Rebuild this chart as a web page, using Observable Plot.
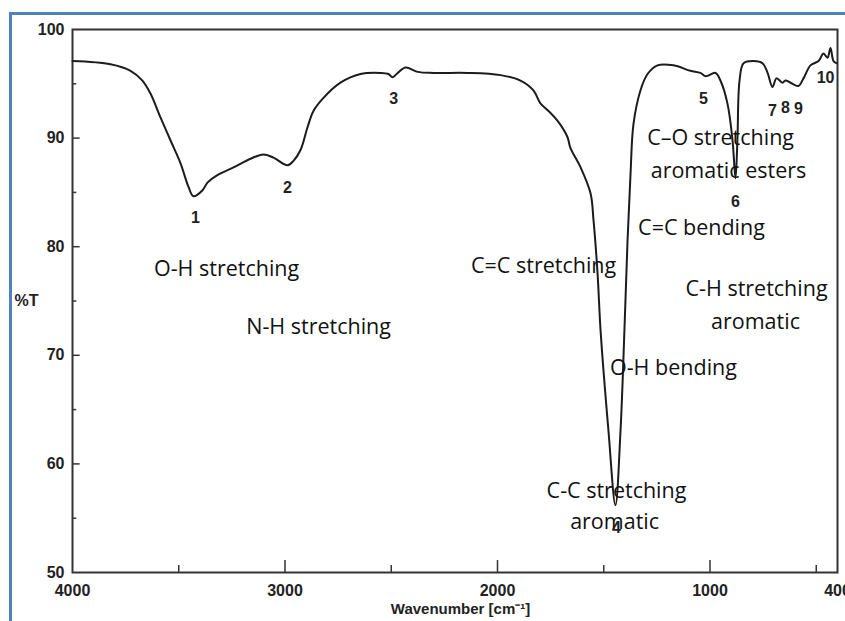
<!DOCTYPE html>
<html><head><meta charset="utf-8">
<script src="https://cdn.jsdelivr.net/npm/d3@7"></script>
<script src="https://cdn.jsdelivr.net/npm/@observablehq/plot@0.6"></script>
<style>
html,body{margin:0;padding:0;background:#fff;}
#wrap{position:relative;width:845px;height:621px;overflow:hidden;}
#border{position:absolute;left:9px;top:12px;width:1000px;height:1000px;border-left:3px solid #4f81bd;border-top:3px solid #4f81bd;}
#chart{position:absolute;left:0;top:0;}
</style></head><body>
<div id="wrap"><div id="border"></div><div id="chart"></div></div>
<script>
// Spectrum: wavenumber (cm^-1) and transmittance (%T)
const wavenumber = [4000,3821,3727,3671,3633,3586,3539,3492,3454,3431,3388,3365,3318,3242,3162,3101,3054,2988,2960,2927,2894,2866,2819,2739,2645,2551,2513,2494,2475,2433,2376,2301,2141,1986,1892,1831,1798,1760,1718,1671,1657,1609,1562,1548,1529,1515,1478,1445,1421,1402,1388,1374,1360,1327,1294,1247,1172,1092,1045,1021,974,951,918,894,880,871,861,842,795,753,729,706,687,659,645,621,584,560,527,489,466,447,433,419,405];
const transmittance = [97.1,96.8,96.2,95.3,94.1,91.9,89.8,87.7,85.5,84.65,85.2,85.9,86.6,87.3,88.1,88.5,88.2,87.5,87.9,88.9,91.0,92.5,93.7,95.1,95.9,96.0,95.9,95.6,95.9,96.5,96.1,96.0,96.0,95.8,95.3,94.4,93.2,92.5,91.6,90.1,89.1,87.3,84.9,82.4,77.5,72.3,63.1,56.2,63.1,72.7,80.6,86.7,91.3,94.4,95.9,96.7,96.7,96.2,96.0,95.7,96.0,95.3,93.2,89.8,86.3,89.8,95.3,96.9,97.1,96.9,96.0,94.7,95.5,95.1,95.3,95.1,94.8,95.5,96.7,97.1,97.8,97.4,98.3,97.1,96.9];

// Numbered peak labels (position in data units)
const peakNames = ["1","2","3","4","5","6","7","8","9","10"];
const peakWn = [3421,2988,2489,1440,1031,880,706,645,584,456];
const peakT = [82.7,85.4,93.6,54.1,93.6,84.1,92.5,92.8,92.7,95.5];

// Band assignment annotations
const annText = ["O-H stretching","N-H stretching","C=C stretching","C\u2013O stretching","aromatic esters","C=C bending","C-H stretching","aromatic","O-H bending","C-C stretching","aromatic"];
const annWn = [3275,2842,1783,950,913,1040,781,786,1172,1440,1449];
const annT = [77.9,72.6,78.2,90.0,87.0,81.7,76.1,73.1,68.8,57.5,54.6];

// Axis ticks
const xTicks = [4000,3000,2000,1000,400];
const xMajorInner = [3000,2000,1000];
const xMinor = [3500,2500,1500,500];
const yTicks = [50,60,70,80,90,100];
const yMajorInner = [60,70,80,90];
const yMinor = [55,65,75,85,95];

const spectrum = wavenumber.map((w, i) => ({w, t: transmittance[i]}));
const peaks = peakNames.map((n, i) => ({n, w: peakWn[i], t: peakT[i]}));
const anns = annText.map((s, i) => ({s, w: annWn[i], t: annT[i]}));

const axisFont = "'Liberation Sans Narrow','Liberation Sans',Arial,sans-serif";
const annFont = "'Open Sans','Noto Sans',sans-serif";

const plot = Plot.plot({
  width: 845, height: 621,
  marginLeft: 72, marginRight: 8, marginTop: 29, marginBottom: 49,
  style: {background: "transparent", fontFamily: axisFont, color: "#222"},
  x: {domain: [4000, 400]},
  y: {domain: [50, 100]},
  marks: [
    Plot.ruleY(yMajorInner, {y: d => d, x1: 4000, x2: 3964, stroke: "#333", strokeWidth: 1.5}),
    Plot.ruleY(yMinor, {y: d => d, x1: 4000, x2: 3980, stroke: "#333", strokeWidth: 1.5}),
    Plot.ruleX(xMajorInner, {x: d => d, y1: 50, y2: 51.1, stroke: "#333", strokeWidth: 1.5}),
    Plot.ruleX(xMinor, {x: d => d, y1: 50, y2: 50.65, stroke: "#333", strokeWidth: 1.5}),
    Plot.frame({stroke: "#333", strokeWidth: 2}),
    Plot.axisY({ticks: yTicks, tickSize: 0, tickPadding: 8, label: null, fontSize: 16, fontWeight: "bold", tickFormat: d => String(d)}),
    Plot.axisX({ticks: xTicks, tickSize: 0, tickPadding: 12, label: null, fontSize: 16, fontWeight: "bold", tickFormat: d => String(d)}),
    Plot.line(spectrum, {x: "w", y: "t", curve: "catmull-rom", stroke: "#1c1c1c", strokeWidth: 2}),
    Plot.text(peaks, {x: "w", y: "t", text: "n", fontSize: 16, fontWeight: "bold", fill: "#222"}),
    Plot.text(anns, {x: "w", y: "t", text: "s", fontSize: 21.5, fontFamily: annFont, fill: "#111"}),
    Plot.text(["%T"], {frameAnchor: "left", y: [75], text: d => d, dx: -46, textAnchor: "middle", fontSize: 16, fontWeight: "bold", fill: "#222"}),
    Plot.text(["Wavenumber [cm\u207B\u00B9]"], {frameAnchor: "bottom", x: [2174], text: d => d, dy: 41, fontSize: 15, fontWeight: "bold", fill: "#222"})
  ]
});
document.getElementById("chart").appendChild(plot);
</script>
</body></html>
